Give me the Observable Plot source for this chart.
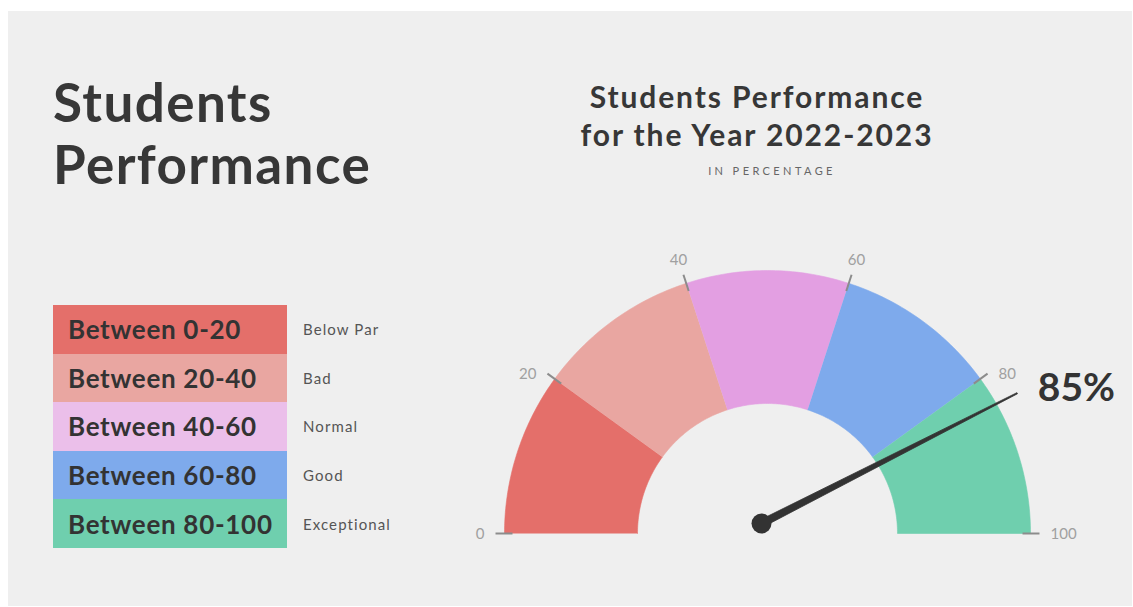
<!DOCTYPE html>
<html>
<head>
<meta charset="utf-8">
<script src="https://cdn.jsdelivr.net/npm/d3@7"></script>
<script src="https://cdn.jsdelivr.net/npm/@observablehq/plot@0.6"></script>
<style>
  html, body { margin: 0; padding: 0; background: #ffffff; }
  #page { position: relative; width: 1133px; height: 607px; overflow: hidden; font-family: Lato, "Open Sans", sans-serif; }
  #panel { position: absolute; left: 8px; top: 11px; width: 1124px; height: 595px; background: #efefef; }
  #bigtitle { position: absolute; left: 53px; top: 71px; font-size: 53px; font-weight: 700; line-height: 62px; color: #373737; letter-spacing: 1.4px; }
  #legend { position: absolute; left: 53px; top: 305px; }
  .row { display: flex; align-items: center; height: 48.6px; }
  .cell { width: 234px; height: 48.6px; box-sizing: border-box; padding-left: 15px; display: flex; align-items: center; font-size: 26px; font-weight: 700; color: #333; letter-spacing: 0.7px; }
  .lab { margin-left: 16px; font-size: 15px; color: #555; letter-spacing: 1.1px; }
  #ctitle { position: absolute; left: 507px; width: 500px; top: 77px; text-align: center; font-weight: 700; color: #373737; font-size: 30px; line-height: 38px; letter-spacing: 1.9px; }
  #csub { position: absolute; left: 572px; width: 400px; top: 164px; text-align: center; font-size: 11px; letter-spacing: 3.4px; color: #666; }
  #gauge { position: absolute; left: 440px; top: 230px; }
</style>
</head>
<body>
<div id="page">
  <div id="panel"></div>
  <div id="bigtitle">Students<br>Performance</div>
  <div id="legend"></div>
  <div id="ctitle">Students Performance<br>for the Year 2022-2023</div>
  <div id="csub">IN PERCENTAGE</div>
  <div id="gauge"></div>
</div>
<script>
// ---- data ----
const bands = ["Between 0-20", "Between 20-40", "Between 40-60", "Between 60-80", "Between 80-100"];
const bandLabels = ["Below Par", "Bad", "Normal", "Good", "Exceptional"];
const bandStart = [0, 20, 40, 60, 80];
const bandEnd = [20, 40, 60, 80, 100];
const tickValues = [0, 20, 40, 60, 80, 100];
const score = 85;

// ---- styles ----
const gaugeColors = ["#e46f6a", "#e9a6a1", "#e39fe2", "#7eaaec", "#6fcfae"];
const legendColors = ["#e46f6a", "#e9a6a1", "#ebbfea", "#7eaaec", "#6fcfae"];
const R_OUT = 263, R_IN = 130;

// legend (HTML)
const legend = document.getElementById("legend");
bands.forEach((b, i) => {
  const row = document.createElement("div");
  row.className = "row";
  const cell = document.createElement("div");
  cell.className = "cell";
  cell.style.background = legendColors[i];
  cell.textContent = b;
  const lab = document.createElement("div");
  lab.className = "lab";
  lab.textContent = bandLabels[i];
  row.append(cell, lab);
  legend.append(row);
});

// gauge geometry derived from values
const ang = v => Math.PI * (1 - v / 100);
const pt = (v, r) => [r * Math.cos(ang(v)), r * Math.sin(ang(v))];

const bandPts = [];
bands.forEach((b, i) => {
  const n = 40;
  const s = bandStart[i], e = bandEnd[i];
  for (let k = 0; k <= n; k++) {
    const v = s + (e - s) * k / n;
    const [x, y] = pt(v, R_OUT);
    bandPts.push({band: b, x, y});
  }
  for (let k = n; k >= 0; k--) {
    const v = s + (e - s) * k / n;
    const [x, y] = pt(v, R_IN);
    bandPts.push({band: b, x, y});
  }
});

const ticks = tickValues.map(v => {
  const [x1, y1] = pt(v, 255);
  const [x2, y2] = pt(v, 272);
  const c = Math.cos(ang(v));
  const side = c < -0.01 ? -1 : (c > 0.01 ? 1 : 0);
  const horiz = Math.abs(c) > 0.7;
  return {
    v, x1, y1, x2, y2,
    tx: horiz ? x2 + side * 11 : x2 + side * 5,
    ty: horiz ? y2 - 1 : y2 + 15,
    anchor: horiz ? (side < 0 ? "end" : "start") : "middle"
  };
});

// needle
const hub = [-6, 10];
const a = ang(score);
const L = 287;
const ux = Math.cos(a), uy = Math.sin(a);
const px = -uy, py = ux;
const tip = [hub[0] + L * ux, hub[1] + L * uy];
const needle = [
  {x: hub[0] + px * 3.8, y: hub[1] + py * 3.8},
  {x: tip[0] + px * 0.6, y: tip[1] + py * 0.6},
  {x: tip[0] - px * 0.6, y: tip[1] - py * 0.6},
  {x: hub[0] - px * 3.8, y: hub[1] - py * 3.8}
];
const [lx, ly] = pt(score, 340);

const chart = Plot.plot({
  width: 690,
  height: 340,
  margin: 0,
  style: {background: "transparent", fontFamily: "Lato, sans-serif"},
  x: {domain: [-327, 363], axis: null},
  y: {domain: [-37, 303], axis: null},
  color: {domain: bands, range: gaugeColors},
  marks: [
    Plot.line(bandPts, {x: "x", y: "y", z: "band", fill: "band", stroke: "band", strokeWidth: 0.6, curve: "linear"}),
    Plot.link(ticks, {x1: "x1", y1: "y1", x2: "x2", y2: "y2", stroke: "#8c8c8c", strokeWidth: 2}),
    Plot.text(ticks.filter(d => d.anchor === "end"), {x: "tx", y: "ty", text: d => String(d.v), fill: "#a0a0a0", fontSize: 15, textAnchor: "end"}),
    Plot.text(ticks.filter(d => d.anchor === "start"), {x: "tx", y: "ty", text: d => String(d.v), fill: "#a0a0a0", fontSize: 15, textAnchor: "start"}),
    Plot.text(ticks.filter(d => d.anchor === "middle"), {x: "tx", y: "ty", text: d => String(d.v), fill: "#a0a0a0", fontSize: 15, textAnchor: "middle"}),
    Plot.line(needle, {x: "x", y: "y", fill: "#333", stroke: "#333", strokeWidth: 0.8, curve: "linear"}),
    Plot.dot([{x: hub[0], y: hub[1]}], {x: "x", y: "y", r: 10, fill: "#333"}),
    Plot.text([{x: lx, y: ly}], {x: "x", y: "y", dx: 6, dy: 9, text: () => `${score}%`, fill: "#333", fontSize: 39, fontWeight: 700})
  ]
});
document.getElementById("gauge").append(chart);
</script>
</body>
</html>
